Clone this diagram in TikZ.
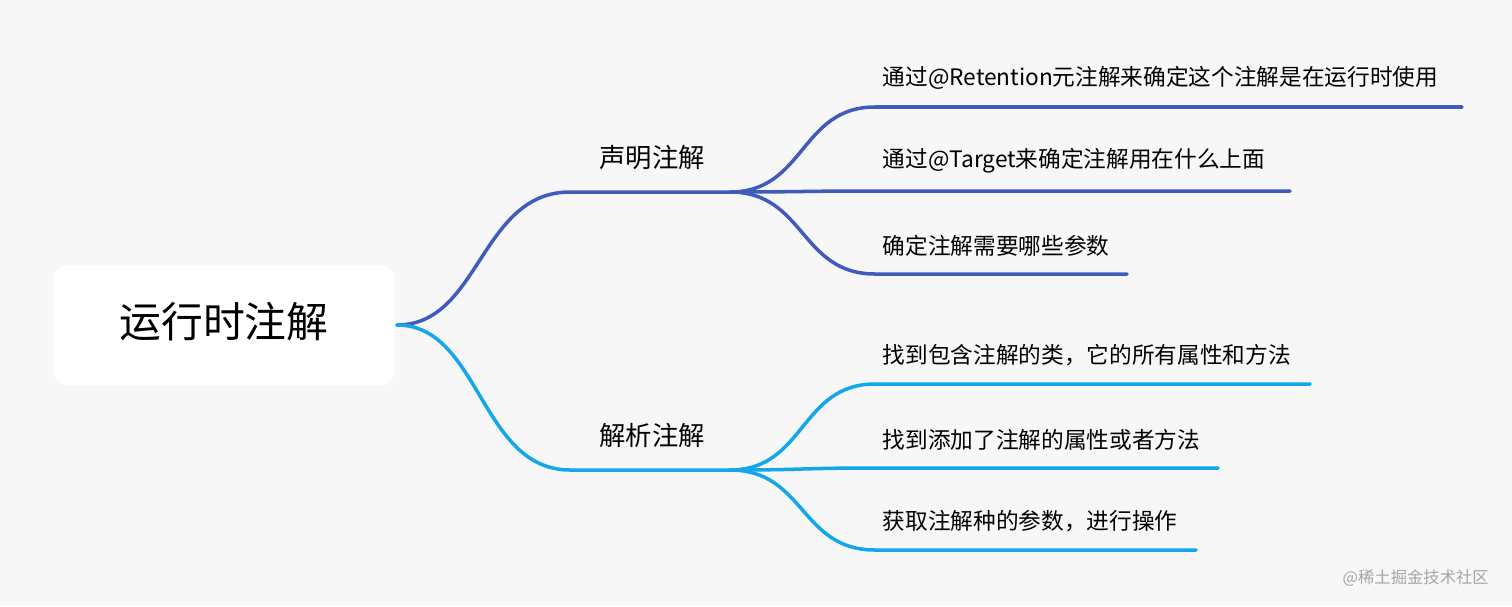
\documentclass[tikz,border=0pt]{standalone}
\usepackage{fontspec}
\setmainfont{Noto Sans CJK SC}
\definecolor{bgcol}{HTML}{F7F7F8}
\definecolor{darkbr}{HTML}{3F5BBE}
\definecolor{lightbr}{HTML}{13A6EA}
\tikzset{
  leaf/.style = {font = \fontsize{12.9}{14}\selectfont, anchor = south west, inner sep = 0pt},
  topic/.style = {font = \fontsize{15}{17}\selectfont, inner sep = 0pt}
}

\begin{document}
\begin{tikzpicture}[x = 0.02cm, y = -0.02cm, line cap = round, line join = round]
  \fill[bgcol] (0, 0) rectangle (1512, 606);
  \useasboundingbox (0, 0) rectangle (1512, 606);

  % root
  \fill[white, rounded corners = 8] (53, 265) rectangle (395, 385);
  \node[font = \fontsize{23.8}{28}\selectfont] (root) at (224, 322) {运行时注解};
  \coordinate (R) at (397, 325);

  % first branch
  \begin{scope}[darkbr, line width = 2pt]
    \coordinate (A0) at (570, 192);
    \coordinate (A1) at (730, 192);
    \draw (R) .. controls (480, 325) and (480, 192) .. (A0) -- (A1);
    \node[topic, text = black] (decl) at (652, 158) {声明注解};
    \foreach \y/\e/\t [count = \i] in {107/1462/通过@Retention元注解来确定这个注解是在运行时使用,
        191/1290/通过@Target来确定注解用在什么上面,
        274/1127/确定注解需要哪些参数} {
      \coordinate (a\i) at (875, \y);
      \draw (A1) .. controls (805, 192) and (800, \y) .. (a\i) -- (\e, \y);
      \node[leaf, text = black] (ta\i) at (881, \y - 16) {\t};
    }
  \end{scope}

  % second branch
  \begin{scope}[lightbr, line width = 2pt]
    \coordinate (B0) at (570, 470);
    \coordinate (B1) at (730, 470);
    \draw (R) .. controls (480, 325) and (480, 470) .. (B0) -- (B1);
    \node[topic, text = black] (parse) at (652, 435) {解析注解};
    \foreach \y/\e/\t [count = \i] in {384/1310/找到包含注解的类，它的所有属性和方法,
        468/1218/找到添加了注解的属性或者方法,
        550/1196/获取注解种的参数，进行操作} {
      \coordinate (b\i) at (875, \y);
      \draw (B1) .. controls (805, 470) and (800, \y) .. (b\i) -- (\e, \y);
      \node[leaf, text = black] (tb\i) at (881, \y - 16) {\t};
    }
  \end{scope}

  \node[font = \fontsize{9.3}{10}\selectfont, text = black!35, anchor = east] (mark) at (1495, 578) {@稀土掘金技术社区};
\end{tikzpicture}
\end{document}
